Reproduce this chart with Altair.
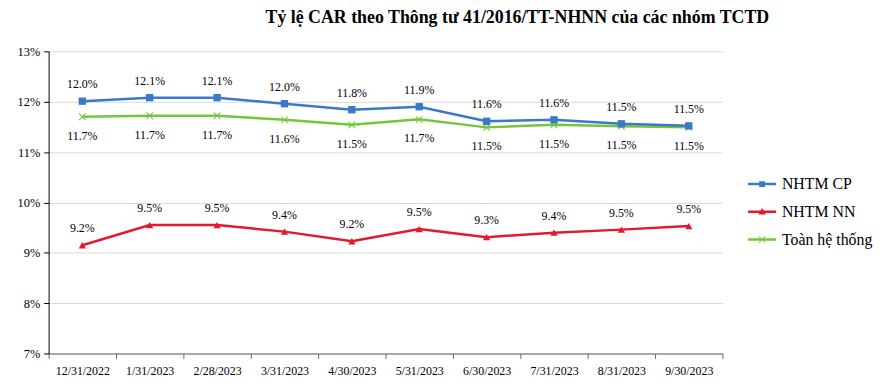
import altair as alt
import pandas as pd

dates = ["12/31/2022", "1/31/2023", "2/28/2023", "3/31/2023", "4/30/2023",
         "5/31/2023", "6/30/2023", "7/31/2023", "8/31/2023", "9/30/2023"]
series_names = ["NHTM CP", "NHTM NN", "Toàn hệ thống"]
colors = ["#3A78C8", "#E31A2E", "#76C63C"]

cp = [12.01, 12.08, 12.08, 11.96, 11.84, 11.90, 11.61, 11.64, 11.56, 11.52]
nn = [9.15, 9.55, 9.55, 9.42, 9.23, 9.47, 9.31, 9.40, 9.46, 9.53]
toan = [11.70, 11.72, 11.72, 11.64, 11.54, 11.65, 11.49, 11.54, 11.51, 11.49]

cp_labels = ["12.0%", "12.1%", "12.1%", "12.0%", "11.8%", "11.9%", "11.6%", "11.6%", "11.5%", "11.5%"]
nn_labels = ["9.2%", "9.5%", "9.5%", "9.4%", "9.2%", "9.5%", "9.3%", "9.4%", "9.5%", "9.5%"]
toan_labels = ["11.7%", "11.7%", "11.7%", "11.6%", "11.5%", "11.7%", "11.5%", "11.5%", "11.5%", "11.5%"]

y_ticks = [7, 8, 9, 10, 11, 12, 13]
title_text = "Tỷ lệ CAR theo Thông tư 41/2016/TT-NHNN của các nhóm TCTD"

# marker shapes (chart) and legend symbols (line + marker)
marker_shapes = [
    "square",
    "triangle-up",
    "M-1,-0.8L-0.8,-1L1,0.8L0.8,1Z M0.8,-1L1,-0.8L-0.8,1L-1,0.8Z",
]
bar = "M-0.72,-0.065L0.72,-0.065L0.72,0.065L-0.72,0.065Z "
legend_shapes = [
    bar + "M-0.15,-0.15L0.15,-0.15L0.15,0.15L-0.15,0.15Z",
    bar + "M0,-0.2L0.2,0.14L-0.2,0.14Z",
    bar + "M-0.18,-0.15L-0.15,-0.18L0.18,0.15L0.15,0.18Z M0.15,-0.18L0.18,-0.15L-0.15,0.18L-0.18,0.15Z",
]

rows = []
order = [2, 1, 0]
all_vals = [cp, nn, toan]
all_labs = [cp_labels, nn_labels, toan_labels]
for i in order:
    for d, v, l in zip(dates, all_vals[i], all_labs[i]):
        rows.append({"date": d, "series": series_names[i], "value": v, "label": l})
df = pd.DataFrame(rows)

FONT = "Liberation Serif"

x_enc = alt.X(
    "date:N", sort=dates, bandPosition=0.5,
    scale=alt.Scale(type="band", paddingInner=0, paddingOuter=0),
    axis=alt.Axis(title=None, labelAngle=0, tickBand="extent", grid=False,
                  labelFont=FONT, labelFontSize=12, labelColor="#000",
                  labelPadding=7, tickSize=5, tickColor="#666", domainColor="#666"),
)
y_enc = alt.Y(
    "value:Q",
    scale=alt.Scale(domain=[7, 13], nice=False, zero=False),
    axis=alt.Axis(title=None, values=y_ticks, labelExpr="datum.value + '%'",
                  labelFont=FONT, labelFontSize=12.5, labelColor="#000",
                  labelPadding=4, tickSize=5, tickColor="#000", domainColor="#000",
                  gridColor="#d9d9d9", gridWidth=1),
)

color_plain = alt.Color("series:N", scale=alt.Scale(domain=series_names, range=colors), legend=None)

base = alt.Chart(df)

lines = base.mark_line(strokeWidth=2.5).encode(x=x_enc, y=y_enc, color=color_plain)
points = base.mark_point(filled=True, size=55, opacity=1).encode(
    x=x_enc, y=y_enc, color=color_plain,
    shape=alt.Shape("series:N", scale=alt.Scale(domain=series_names, range=marker_shapes), legend=None),
)

def labels(name, dy):
    return base.transform_filter(alt.datum.series == name).mark_text(
        font=FONT, fontSize=12, dy=dy, color="#000"
    ).encode(x=x_enc, y=y_enc, text="label:N")

leg = alt.Legend(orient="none", legendX=700, legendY=114, title=None,
                 symbolSize=1540, symbolStrokeWidth=0, labelFont=FONT,
                 labelFontSize=16, labelColor="#000", labelOffset=0,
                 rowPadding=0, padding=0)

legend_layer = base.transform_filter("false").mark_point(filled=True, opacity=1).encode(
    x=x_enc, y=y_enc,
    color=alt.Color("series:N", scale=alt.Scale(domain=series_names, range=colors), legend=leg),
    shape=alt.Shape("series:N", scale=alt.Scale(domain=series_names, range=legend_shapes), legend=leg),
)

chart = alt.layer(
    lines, points,
    labels("NHTM CP", -17), labels("NHTM NN", -17), labels("Toàn hệ thống", 19),
    legend_layer,
).resolve_scale(color="independent", shape="independent").resolve_legend(
    color="independent", shape="independent"
).properties(
    width=680, height=305,
    autosize=alt.AutoSizeParams(type="none"),
    padding={"left": 41, "top": 42, "right": 160, "bottom": 24},
    title=alt.TitleParams(title_text, font=FONT, fontSize=18, fontWeight="bold",
                          anchor="middle", dx=133, offset=19, color="#000"),
).configure_view(stroke=None)

chart.save("out.html", embed_options={"renderer": "svg", "actions": False})
